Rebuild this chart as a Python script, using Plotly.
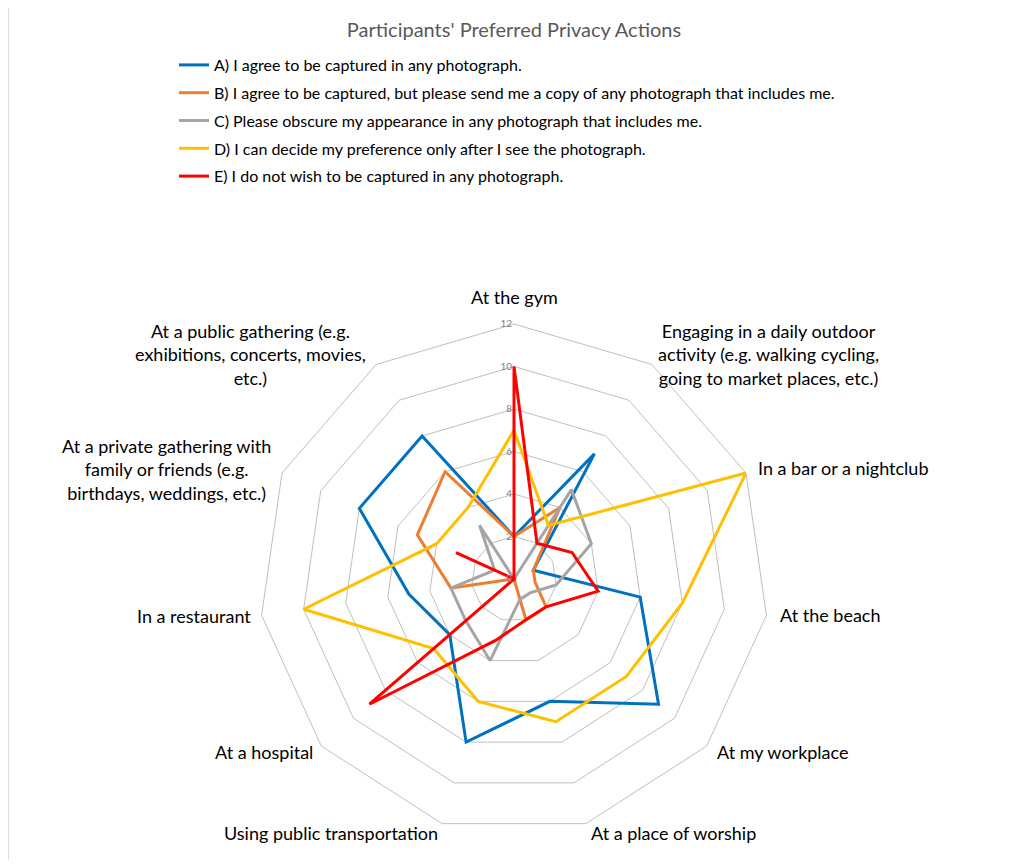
import math
import plotly.graph_objects as go

categories = [
    "At the gym",
    "Engaging in a daily outdoor<br>activity (e.g. walking cycling,<br>going to market places, etc.)",
    "In a bar or a nightclub",
    "At the beach",
    "At my workplace",
    "At a place of worship",
    "Using public transportation",
    "At a hospital",
    "In a restaurant",
    "At a private gathering with<br>family or friends (e.g.<br>birthdays, weddings, etc.)",
    "At a public gathering (e.g.<br>exhibitions, concerts, movies,<br>etc.)",
]

series_names = [
    "A) I agree to be captured in any photograph.",
    "B) I agree to be captured, but please send me a copy of any photograph that includes me.",
    "C) Please obscure my appearance in any photograph that includes me.",
    "D) I can decide my preference only after I see the photograph.",
    "E) I do not wish to be captured in any photograph.",
]

values_a = [2, 7, 1, 6, 9, 6, 8, 4, 5, 8, 8]
values_b = [2, 4, 1, 1, 2, 2, 0, 0, 3, 5, 6]
values_c = [0, 5, 4, 2, 1, 1, 4, 3, 3, 1, 3]
values_d = [7, 3, 12, 8, 7, 7, 6, 5, 10, 4, 4]
values_e = [10, 2, 3, 4, 2, 2, 3, 9, 0, 3, 0]

radial_ticks = [0, 2, 4, 6, 8, 10, 12]

colors = ["#0070C0", "#ED7D31", "#A5A5A5", "#FFC000", "#FF0000"]

# the page body has an 8px margin, so the figure is offset by 8px
OFF = 8
W, H = 1011 - 2 * OFF, 868 - 2 * OFF
CX, CY, R = 514 - OFF, 579 - OFF, 255
FONT = "Lato"

fig = go.Figure()
for name, vals, col in zip(series_names, [values_a, values_b, values_c, values_d, values_e], colors):
    fig.add_trace(go.Scatterpolar(
        r=vals + vals[:1],
        theta=categories + categories[:1],
        mode="lines",
        name=name,
        legendgroup=name,
        line=dict(color=col, width=3),
        hoverinfo="skip",
    ))

# category label annotations placed next to the outer polygon vertices
label_anchor = [
    ("center", "bottom", 0, 14),
    ("left", "middle", 4, 10),
    ("left", "middle", 10, 5),
    ("left", "middle", 12, 0),
    ("left", "middle", 8, -6),
    ("left", "middle", 3, -9),
    ("right", "middle", -2, -9),
    ("right", "middle", -6, -6),
    ("right", "middle", -9, -1),
    ("right", "middle", -9, 4),
    ("right", "middle", -8, 10),
]
annotations = []
n = len(categories)
for i, (lab, (xa, ya, xs, ys)) in enumerate(zip(categories, label_anchor)):
    ang = math.radians(90 - i * 360 / n)
    px = CX + R * math.cos(ang)
    py = CY - R * math.sin(ang)
    annotations.append(dict(
        x=px / W, y=1 - py / H, xref="paper", yref="paper",
        text=lab, showarrow=False, xanchor=xa, yanchor=ya,
        xshift=xs, yshift=ys, align="center",
        font=dict(family=FONT, size=18, color="#000000"),
    ))

fig.update_layout(
    width=W, height=H,
    margin=dict(l=0, r=0, t=0, b=0),
    paper_bgcolor="white",
    font=dict(family=FONT),
    title=dict(
        text="Participants' Preferred Privacy Actions",
        x=CX / W, xanchor="center", y=1 - (30 - OFF) / H, yanchor="middle",
        font=dict(family=FONT, size=20, color="#595959"),
    ),
    legend=dict(
        x=(174 - OFF) / W, xanchor="left", y=1 - (48 - OFF) / H, yanchor="top",
        font=dict(family=FONT, size=16, color="#000000"),
        tracegroupgap=4, bgcolor="rgba(0,0,0,0)",
    ),
    polar=dict(
        domain=dict(x=[(CX - R) / W, (CX + R) / W], y=[(H - CY - R) / H, (H - CY + R) / H]),
        gridshape="linear",
        bgcolor="white",
        radialaxis=dict(
            range=[0, 12], tickvals=radial_ticks, angle=90, tickangle=90,
            showline=False, ticks="", gridcolor="#BFBFBF", gridwidth=1,
            tickfont=dict(family=FONT, size=10, color="#808080"),
            side="counterclockwise",
        ),
        angularaxis=dict(
            rotation=90, direction="clockwise", showgrid=False,
            showline=True, linecolor="#BFBFBF", linewidth=1,
            showticklabels=False, ticks="",
        ),
    ),
    annotations=annotations,
    shapes=[dict(type="rect", xref="paper", yref="paper",
                 x0=(7.5 - OFF) / W + 0.0006, x1=1.05, y0=-0.05, y1=1 - (6 - OFF) / H - 0.001,
                 line=dict(color="#D9D9D9", width=1.5), layer="below")],
)

fig.write_html("out.html")
